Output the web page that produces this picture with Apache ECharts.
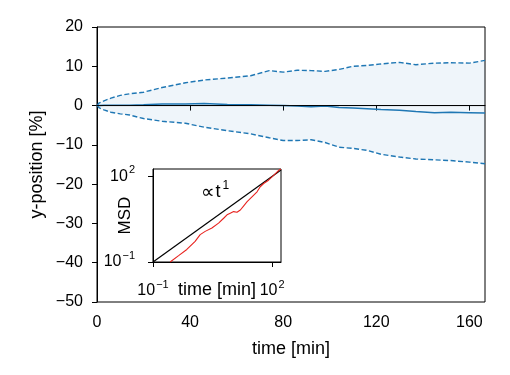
<!DOCTYPE html>
<html>
<head>
<meta charset="utf-8">
<script src="https://cdn.jsdelivr.net/npm/echarts@6/dist/echarts.min.js"></script>
<style>
html, body { margin: 0; padding: 0; background: #fff; }
#chart { width: 510px; height: 375px; }
</style>
</head>
<body>
<div id="chart"></div>
<script>
// main panel: trajectory spread over time
var timeMin = [0, 1, 3, 6, 10, 14, 20, 28, 38, 46, 56, 66, 74, 80, 86, 92, 98, 104, 110, 116, 122, 130, 137, 145, 152, 160, 166.7];
var upperBound = [0, 0.7, 1.2, 1.9, 2.6, 3.0, 3.4, 4.6, 5.8, 6.5, 7.0, 7.6, 8.9, 8.5, 9.0, 8.9, 8.7, 9.2, 10.0, 10.2, 10.6, 11.0, 10.4, 10.8, 10.9, 10.8, 11.5];
var lowerBound = [0, -0.6, -1.1, -1.7, -2.1, -2.4, -3.3, -4.0, -4.5, -5.5, -6.4, -7.2, -8.2, -8.9, -8.9, -8.7, -9.4, -10.6, -10.9, -11.4, -12.4, -13.1, -13.6, -13.8, -14.0, -14.4, -14.8];
var meanPos = [0, 0, 0.1, 0.1, 0.1, 0.1, 0.2, 0.4, 0.4, 0.5, 0.3, 0.2, 0.1, 0, -0.1, -0.3, -0.1, -0.5, -0.6, -0.8, -1.0, -1.2, -1.5, -1.8, -1.7, -1.8, -1.9];
var xTicks = [0, 40, 80, 120, 160];

// inset: mean squared displacement (log-log)
var msdTime = [0.27, 0.45, 0.71, 1.15, 1.54, 2.06, 3.04, 4.47, 6.0, 7.3, 8.8, 10.7, 13, 15.8, 19, 23.4, 31, 41.6, 50, 61, 81, 109, 146, 166.7];
var msdValue = [0.1, 0.17, 0.275, 0.53, 0.91, 1.18, 1.55, 2.3, 3.4, 4.5, 5.1, 5.8, 5.5, 6.6, 9.1, 12.9, 19, 28.6, 43, 56, 73, 107, 162, 180];
var refTime = [0.1, 166.7];
var refValue = [0.1, 166.7];
var insetTicks = [0.1, 100];

function pairs(xs, ys) {
    return xs.map(function (x, i) { return [x, ys[i]]; });
}

function powLabel(v) {
    var e = Math.round(Math.log10(v));
    return '{b|10}{s|' + (e < 0 ? '\u2212' : '') + Math.abs(e) + '}';
}

function minusLabel(v) {
    return String(v).replace('-', '\u2212');
}

var font = "'Liberation Sans', Arial, sans-serif";
var blue = '#1f77b4';
var supRich = {
    b: { fontSize: 16, fontFamily: font, color: '#000' },
    s: { fontSize: 11, fontFamily: font, color: '#000', padding: [0, 0, 12, 1] }
};

var chart = echarts.init(document.getElementById('chart'));

var option = {
    animation: false,
    backgroundColor: '#fff',
    textStyle: { fontFamily: font },
    grid: [
        { left: 97, top: 27, width: 388, height: 275, show: true, borderColor: '#000', borderWidth: 1, backgroundColor: 'transparent' },
        { left: 153, top: 169, width: 128, height: 93, show: true, borderColor: '#000', borderWidth: 1, backgroundColor: '#fff', z: 10 }
    ],
    xAxis: [
        {
            gridIndex: 0, type: 'value', min: 0, max: 166.7, interval: 40,
            name: 'time [min]', nameLocation: 'middle', nameGap: 38, nameMoveOverlap: false,
            nameTextStyle: { fontSize: 18, color: '#000' },
            axisLine: { lineStyle: { color: '#000', width: 1 } },
            axisTick: { length: 5, lineStyle: { color: '#000' }, customValues: xTicks },
            axisLabel: { fontSize: 16, color: '#000', margin: 13, customValues: xTicks },
            splitLine: { show: false }
        },
        {
            gridIndex: 1, type: 'log', logBase: 10, min: 0.1, max: 166.7,
            name: 'time [min]', nameLocation: 'middle', nameGap: 19, nameMoveOverlap: false,
            nameTextStyle: { fontSize: 18, color: '#000' },
            axisLine: { lineStyle: { color: '#000', width: 1 } },
            axisTick: { length: 5, lineStyle: { color: '#000' }, customValues: insetTicks },
            axisLabel: { margin: 17, formatter: powLabel, rich: supRich, customValues: insetTicks },
            splitLine: { show: false },
            minorTick: { show: false }, z: 10
        }
    ],
    yAxis: [
        {
            gridIndex: 0, type: 'value', min: -50, max: 20, interval: 10,
            name: 'y-position [%]', nameLocation: 'middle', nameGap: 51, nameMoveOverlap: false,
            nameTextStyle: { fontSize: 18, color: '#000' },
            axisLine: { lineStyle: { color: '#000', width: 1 } },
            axisTick: { length: 5, lineStyle: { color: '#000' } },
            axisLabel: { fontSize: 16, color: '#000', margin: 14, formatter: minusLabel },
            splitLine: { show: false }
        },
        {
            gridIndex: 1, type: 'log', logBase: 10, min: 0.1, max: 180,
            name: 'MSD', nameLocation: 'middle', nameGap: 19, nameMoveOverlap: false,
            nameTextStyle: { fontSize: 17, color: '#000' },
            axisLine: { lineStyle: { color: '#000', width: 1 } },
            axisTick: { length: 5, lineStyle: { color: '#000' }, customValues: insetTicks },
            axisLabel: { margin: 18, formatter: powLabel, rich: supRich, customValues: insetTicks },
            splitLine: { show: false },
            minorTick: { show: false }, z: 10
        }
    ],
    series: [
        {
            name: 'upper', type: 'line', xAxisIndex: 0, yAxisIndex: 0,
            data: pairs(timeMin, upperBound), showSymbol: false,
            lineStyle: { color: blue, width: 1.4, type: [5, 2.5] },
            areaStyle: { color: 'rgba(31,119,180,0.1)', origin: 0 }
        },
        {
            name: 'lower', type: 'line', xAxisIndex: 0, yAxisIndex: 0,
            data: pairs(timeMin, lowerBound), showSymbol: false,
            lineStyle: { color: blue, width: 1.4, type: [5, 2.5] },
            areaStyle: { color: 'rgba(31,119,180,0.1)', origin: 0 }
        },
        {
            name: 'mean', type: 'line', xAxisIndex: 0, yAxisIndex: 0,
            data: pairs(timeMin, meanPos), showSymbol: false,
            lineStyle: { color: blue, width: 1.5 }
        },
        {
            name: 'zero', type: 'line', xAxisIndex: 0, yAxisIndex: 0,
            data: [[timeMin[0], 0], [timeMin[timeMin.length - 1], 0]], showSymbol: false,
            lineStyle: { color: '#000', width: 1 }, z: 3
        },
        {
            name: 'ref', type: 'line', xAxisIndex: 1, yAxisIndex: 1,
            data: pairs(refTime, refValue), showSymbol: false,
            lineStyle: { color: '#000', width: 1.2 }, z: 11
        },
        {
            name: 'msd', type: 'line', xAxisIndex: 1, yAxisIndex: 1,
            data: pairs(msdTime, msdValue), showSymbol: false,
            lineStyle: { color: '#e8231f', width: 1.1 }, z: 11
        }
    ],
    graphic: [
        {
            type: 'text', left: 201, top: 180, z: 20,
            style: {
                text: '{p|\u221d}{a|t}{s|1}',
                rich: {
                    p: { fontSize: 19, fontFamily: "'DejaVu Sans', sans-serif", fill: '#000', padding: [2, 1, 0, 0] },
                    a: { fontSize: 18, fontFamily: font, fill: '#000' },
                    s: { fontSize: 12, fontFamily: font, fill: '#000', padding: [0, 0, 12, 2] }
                }
            }
        }
    ]
};

chart.setOption(option);
window.onresize = chart.resize;
</script>
</body>
</html>
